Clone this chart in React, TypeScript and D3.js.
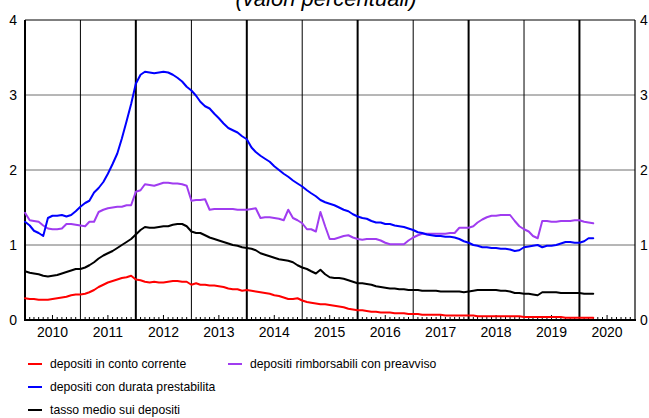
import * as d3 from 'd3';
import React from 'react';

// monthly values, Jan 2010 .. Apr 2020
const contoCorrente = [
  0.29, 0.28, 0.28, 0.27, 0.27, 0.27, 0.28, 0.29, 0.30, 0.31, 0.33, 0.34,
  0.34, 0.35, 0.37, 0.40, 0.44, 0.47, 0.50, 0.52, 0.54, 0.56, 0.57, 0.59,
  0.54, 0.53, 0.51, 0.50, 0.51, 0.50, 0.50, 0.51, 0.52, 0.52, 0.51, 0.51,
  0.47, 0.49, 0.47, 0.47, 0.46, 0.46, 0.45, 0.44, 0.42, 0.41, 0.41, 0.39,
  0.40, 0.39, 0.38, 0.37, 0.36, 0.35, 0.33, 0.32, 0.30, 0.28, 0.28, 0.29,
  0.26, 0.24, 0.23, 0.22, 0.21, 0.21, 0.20, 0.19, 0.18, 0.17, 0.15, 0.14,
  0.13, 0.13, 0.12, 0.11, 0.11, 0.10, 0.10, 0.10, 0.09, 0.09, 0.09, 0.08,
  0.08, 0.08, 0.07, 0.07, 0.07, 0.07, 0.07, 0.06, 0.06, 0.06, 0.06, 0.06,
  0.06, 0.06, 0.05, 0.05, 0.05, 0.05, 0.05, 0.05, 0.05, 0.05, 0.05, 0.05,
  0.04, 0.04, 0.04, 0.04, 0.04, 0.04, 0.04, 0.04, 0.04, 0.03, 0.03, 0.03,
  0.03, 0.03, 0.03, 0.03,
];

const durataPrestabilita = [
  1.31, 1.26, 1.19, 1.16, 1.12, 1.36, 1.39, 1.39, 1.40, 1.38, 1.40, 1.45,
  1.51, 1.56, 1.59, 1.70, 1.76, 1.84, 1.95, 2.08, 2.22, 2.42, 2.65, 2.88,
  3.15, 3.27, 3.31, 3.30, 3.29, 3.30, 3.31, 3.30, 3.27, 3.23, 3.18, 3.11,
  3.06, 2.99, 2.91, 2.85, 2.82, 2.75, 2.69, 2.62, 2.56, 2.53, 2.50, 2.45,
  2.41, 2.30, 2.24, 2.19, 2.15, 2.11, 2.05, 2.00, 1.95, 1.91, 1.86, 1.82,
  1.78, 1.73, 1.69, 1.65, 1.60, 1.57, 1.55, 1.53, 1.50, 1.47, 1.45, 1.41,
  1.38, 1.36, 1.35, 1.32, 1.30, 1.30, 1.28, 1.28, 1.26, 1.25, 1.24, 1.22,
  1.20, 1.17, 1.16, 1.14, 1.13, 1.12, 1.12, 1.11, 1.11, 1.10, 1.08, 1.05,
  1.03, 1.00, 0.99, 0.97, 0.97, 0.96, 0.96, 0.95, 0.95, 0.94, 0.92, 0.93,
  0.97, 0.98, 0.99, 1.00, 0.97, 0.99, 0.99, 1.00, 1.02, 1.04, 1.04, 1.03,
  1.03, 1.05, 1.09, 1.09,
];

const rimborsabili = [
  1.43, 1.33, 1.32, 1.31, 1.26, 1.22, 1.21, 1.21, 1.22, 1.28, 1.28, 1.27,
  1.26, 1.25, 1.31, 1.31, 1.44, 1.47, 1.49, 1.50, 1.51, 1.51, 1.53, 1.53,
  1.71, 1.73, 1.81, 1.80, 1.79, 1.81, 1.83, 1.83, 1.82, 1.82, 1.81, 1.79,
  1.59, 1.60, 1.60, 1.61, 1.47, 1.48, 1.48, 1.48, 1.48, 1.48, 1.47, 1.47,
  1.47, 1.48, 1.49, 1.36, 1.37, 1.37, 1.36, 1.35, 1.33, 1.47, 1.36, 1.33,
  1.29, 1.21, 1.21, 1.18, 1.44, 1.25, 1.08, 1.08, 1.10, 1.12, 1.13, 1.10,
  1.08, 1.07, 1.08, 1.08, 1.08, 1.06, 1.03, 1.01, 1.01, 1.01, 1.01, 1.06,
  1.10, 1.13, 1.15, 1.15, 1.15, 1.15, 1.15, 1.15, 1.16, 1.16, 1.23, 1.23,
  1.23, 1.25, 1.30, 1.34, 1.37, 1.39, 1.39, 1.40, 1.40, 1.40, 1.32, 1.25,
  1.21, 1.18, 1.12, 1.09, 1.32, 1.32, 1.31, 1.31, 1.32, 1.32, 1.32, 1.33,
  1.33, 1.31, 1.30, 1.29,
];

const tassoMedio = [
  0.65, 0.63, 0.62, 0.61, 0.59, 0.58, 0.59, 0.60, 0.62, 0.64, 0.66, 0.68,
  0.68, 0.70, 0.73, 0.77, 0.82, 0.86, 0.89, 0.92, 0.96, 1.00, 1.04, 1.08,
  1.14, 1.20, 1.24, 1.23, 1.23, 1.24, 1.25, 1.25, 1.27, 1.28, 1.28, 1.25,
  1.18, 1.16, 1.16, 1.13, 1.10, 1.08, 1.06, 1.04, 1.02, 1.00, 0.99, 0.97,
  0.96, 0.95, 0.93, 0.89, 0.87, 0.85, 0.83, 0.81, 0.80, 0.79, 0.77, 0.73,
  0.70, 0.68, 0.65, 0.62, 0.67, 0.61, 0.57, 0.56, 0.56, 0.55, 0.53, 0.51,
  0.49, 0.49, 0.48, 0.47, 0.45, 0.44, 0.43, 0.42, 0.42, 0.41, 0.41, 0.40,
  0.40, 0.40, 0.39, 0.39, 0.39, 0.39, 0.38, 0.38, 0.38, 0.38, 0.38, 0.37,
  0.38, 0.39, 0.40, 0.40, 0.40, 0.40, 0.40, 0.39, 0.39, 0.38, 0.36, 0.36,
  0.35, 0.35, 0.34, 0.33, 0.37, 0.37, 0.37, 0.37, 0.36, 0.36, 0.36, 0.36,
  0.36, 0.35, 0.35, 0.35,
];

const yearLabels = [2010, 2011, 2012, 2013, 2014, 2015, 2016, 2017, 2018, 2019, 2020];
const yTicks = [0, 1, 2, 3, 4];

const series = [
  { name: 'depositi in conto corrente', values: contoCorrente, color: '#ff0000' },
  { name: 'depositi rimborsabili con preavviso', values: rimborsabili, color: '#a03cf0' },
  { name: 'depositi con durata prestabilita', values: durataPrestabilita, color: '#0000ff' },
  { name: 'tasso medio sui depositi', values: tassoMedio, color: '#000000' },
];

const W = 649, H = 418;
const left = 25, right = 635, top = 20, bottom = 320;
const font = 'Arial, "Liberation Sans", Helvetica, sans-serif';

export default function App() {
  const months = d3.timeMonth.range(new Date(2010, 0, 1), new Date(2020, 4, 1));

  const x = d3.scaleTime()
    .domain([new Date(2010, 0, 1), new Date(2021, 0, 1)])
    .range([left, right]);
  const y = d3.scaleLinear().domain([0, 4]).range([bottom, top]);

  const line = d3.line<number>()
    .x((_, i) => x(months[i]))
    .y(v => y(v));

  const yearStarts = d3.timeYear.range(new Date(2011, 0, 1), new Date(2021, 0, 1));
  const minor = d3.timeMonth.range(new Date(2010, 0, 1), new Date(2021, 0, 1))
    .filter(d => d.getMonth() !== 0);

  // legend order / position: column 1 has three rows, column 2 one
  const legend = [
    { s: series[0], lx: 28, ly: 364 },
    { s: series[2], lx: 28, ly: 387 },
    { s: series[3], lx: 28, ly: 410 },
    { s: series[1], lx: 228, ly: 364 },
  ];

  return (
    <svg width={W} height={H} style={{ position: 'absolute', left: 0, top: 0, background: '#fff' }}
      fontFamily={font}>
      <text x={326} y={6} textAnchor="middle" fontSize={22} fontStyle="italic" fill="#000">
        (valori percentuali)
      </text>

      {/* horizontal grid */}
      {yTicks.filter(t => t > 0 && t < 4).map(t => (
        <line key={t} x1={left} x2={right} y1={y(t)} y2={y(t)} stroke="#6e6e6e" strokeWidth={1} />
      ))}

      {/* vertical year lines */}
      {yearStarts.map(d => (
        <line key={+d} x1={x(d)} x2={x(d)} y1={top} y2={bottom} stroke="#000"
          strokeWidth={d.getFullYear() % 2 === 0 ? 2 : 1} />
      ))}

      {/* monthly ticks */}
      {minor.map(d => (
        <line key={+d} x1={x(d)} x2={x(d)} y1={bottom} y2={bottom - (d.getMonth() === 6 ? 5 : 3)}
          stroke="#000" strokeWidth={1} />
      ))}

      {/* frame */}
      <line x1={left} x2={right} y1={top} y2={top} stroke="#000" strokeWidth={1} />
      <line x1={right} x2={right} y1={top} y2={bottom} stroke="#000" strokeWidth={1.2} />
      <line x1={left} x2={left} y1={top} y2={bottom + 1} stroke="#000" strokeWidth={2} />
      <line x1={left - 1} x2={right + 1} y1={bottom} y2={bottom} stroke="#000" strokeWidth={2} />

      {series.map(s => (
        <path key={s.name} d={line(s.values) ?? ''} fill="none" stroke={s.color}
          strokeWidth={2} strokeLinejoin="round" strokeLinecap="round" />
      ))}

      {/* y labels */}
      {yTicks.map(t => (
        <g key={t}>
          <text x={17} y={y(t)} dy="0.36em" textAnchor="end" fontSize={14}>{t}</text>
          <text x={640} y={y(t)} dy="0.36em" textAnchor="start" fontSize={14}>{t}</text>
        </g>
      ))}

      {/* year labels */}
      {yearLabels.map(yr => (
        <text key={yr} x={x(new Date(yr, 6, 1))} y={337} textAnchor="middle" fontSize={14}>{yr}</text>
      ))}

      {legend.map(({ s, lx, ly }) => (
        <g key={s.name}>
          <line x1={lx} x2={lx + 14} y1={ly} y2={ly} stroke={s.color} strokeWidth={2} />
          <text x={lx + 22} y={ly} dy="0.35em" fontSize={12.2}>{s.name}</text>
        </g>
      ))}
    </svg>
  );
}
